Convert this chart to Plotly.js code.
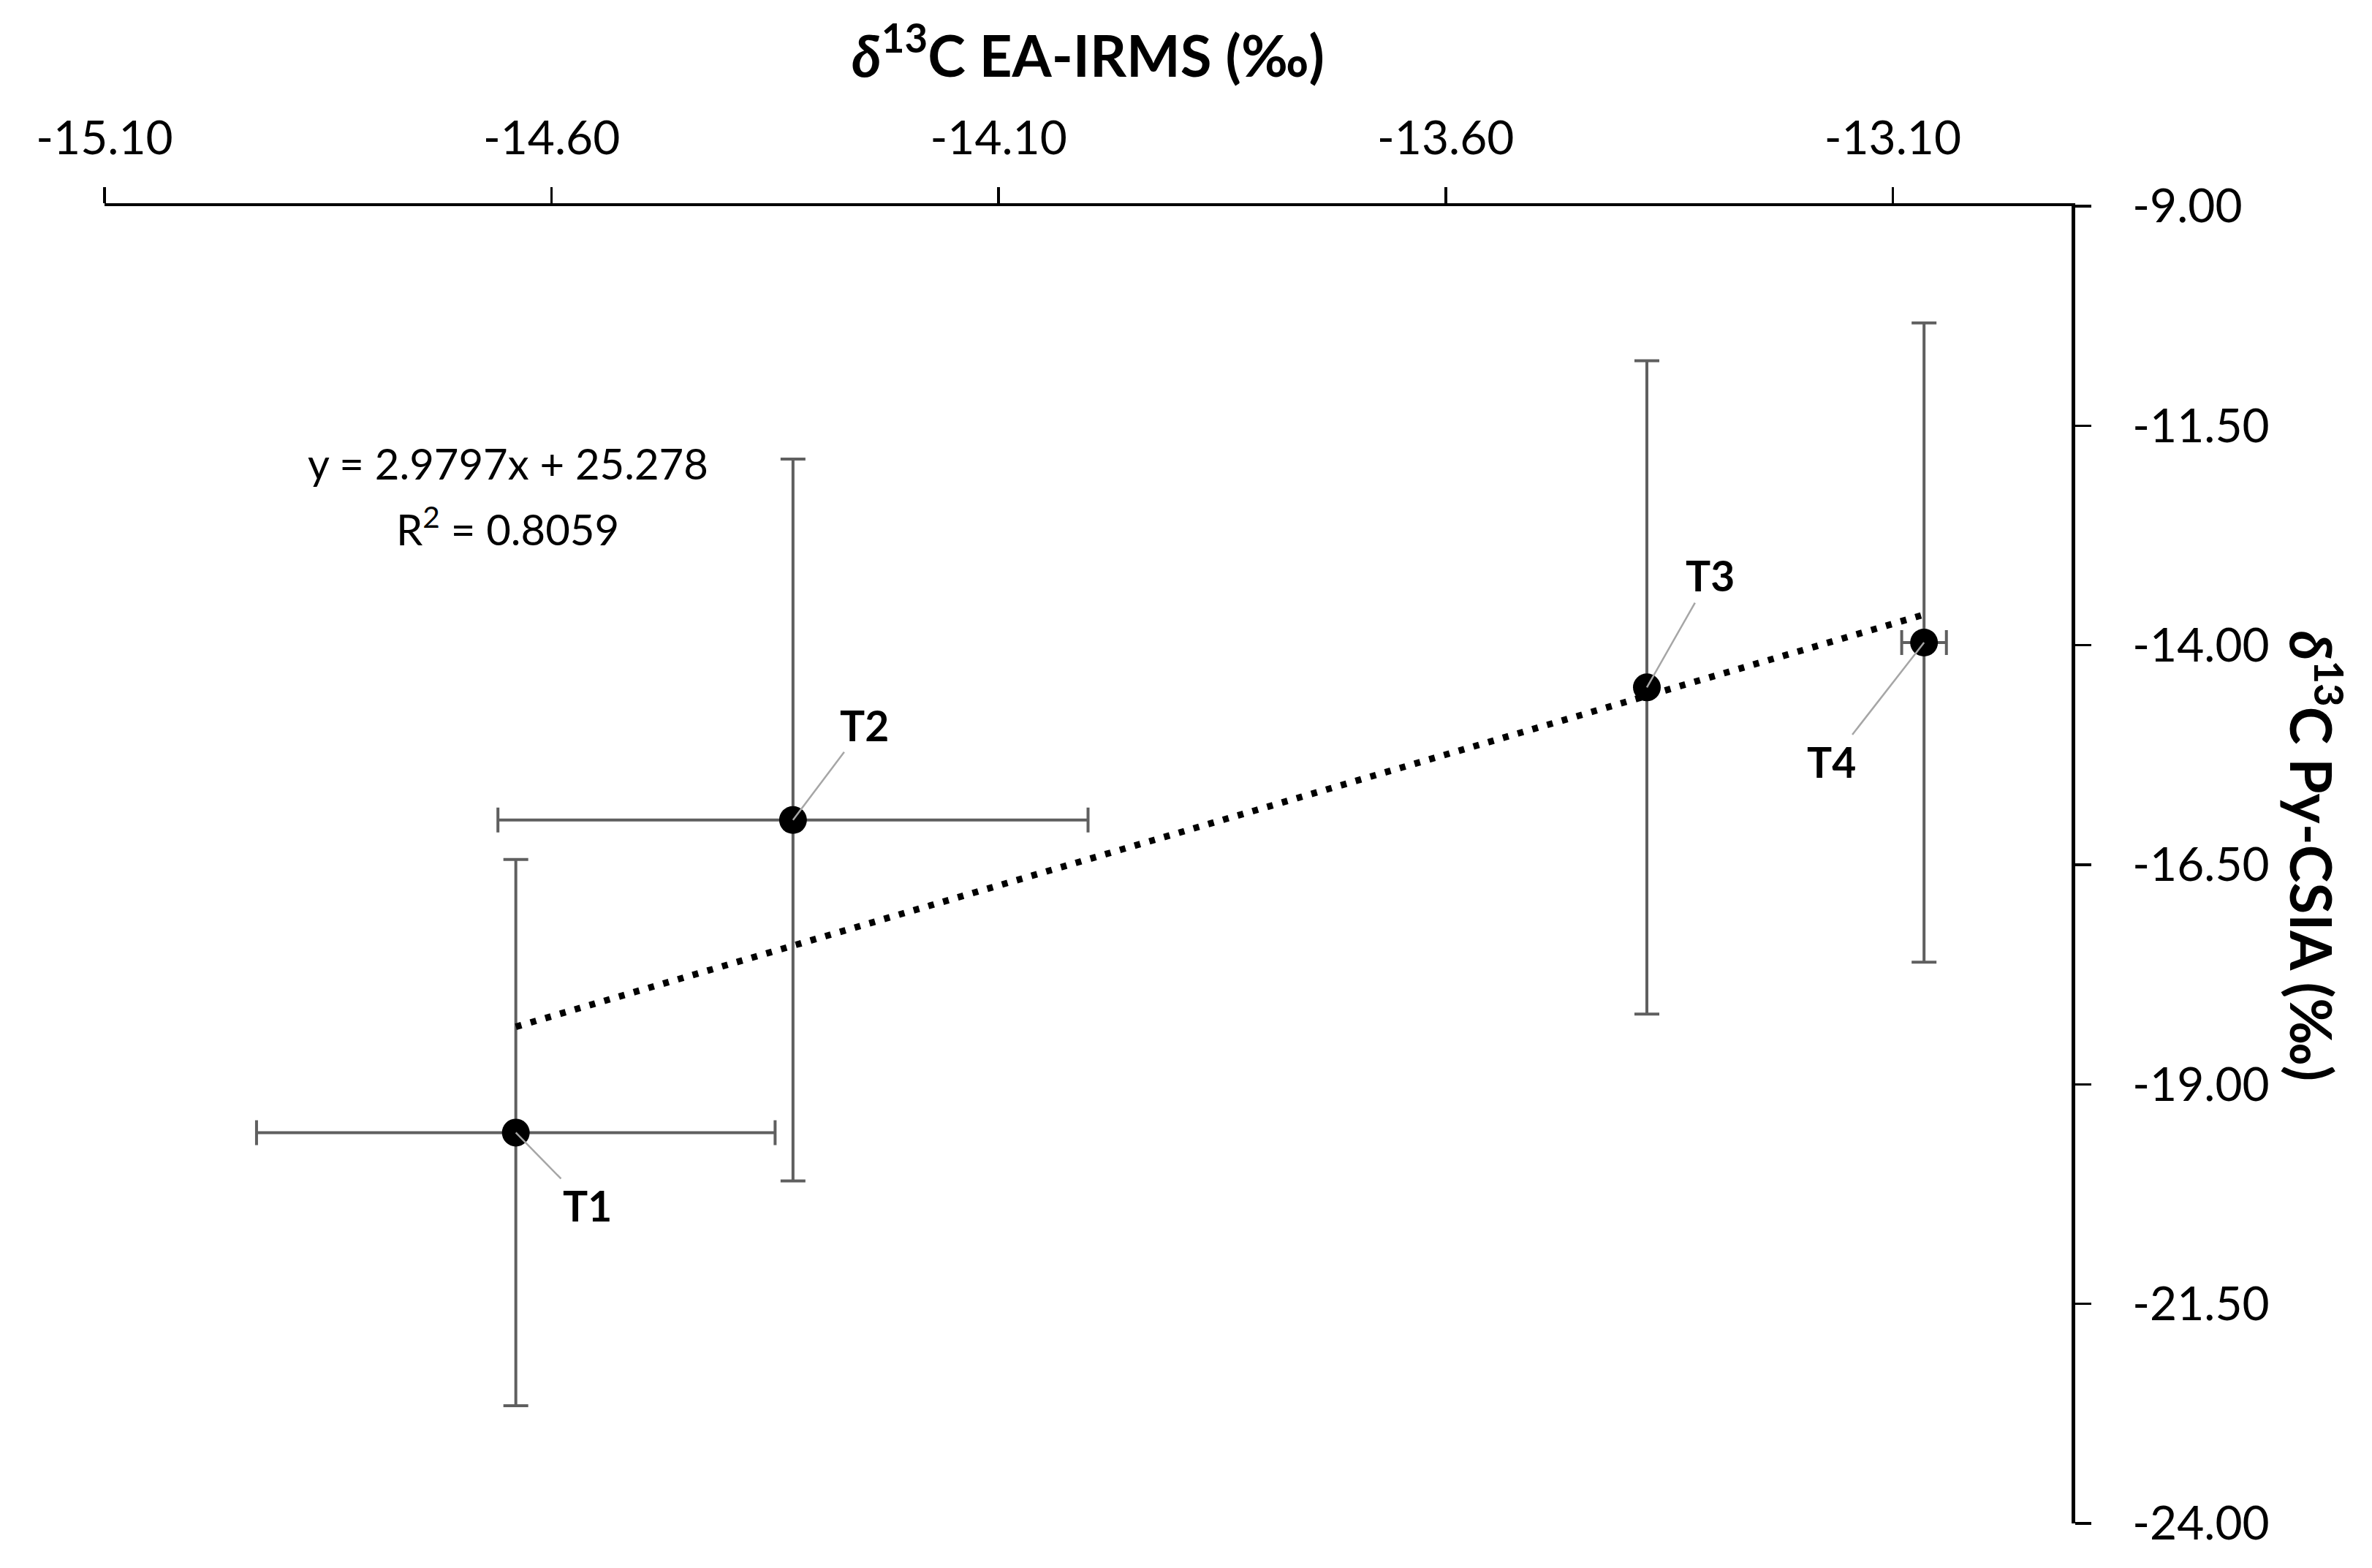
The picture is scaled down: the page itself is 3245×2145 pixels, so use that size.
<!DOCTYPE html>
<html><head><meta charset="utf-8">
<script src="https://cdn.plot.ly/plotly-3.0.1.min.js"></script>
<style>html,body{margin:0;padding:0;background:#fff}#chart{width:3245px;height:2145px}</style>
</head><body><div id="chart"></div>
<script>
// ---- data ----
const samples   = ["T1", "T2", "T3", "T4"];
const eaIrms    = [-14.64, -14.33, -13.375, -13.065];   // δ13C EA-IRMS (‰)
const pyCsia    = [-19.55, -15.99, -14.48, -13.97];     // δ13C Py-CSIA (‰)
const eaIrmsErr = [0.29, 0.33, NaN, 0.025];
const pyCsiaErr = [3.11, 4.11, 3.72, 3.64];
const trendSlope = 2.9797;
const trendIntercept = 25.278;
const trendR2 = 0.8059;
const xTickVals = [-15.10, -14.60, -14.10, -13.60, -13.10];
const xTickText = ["-15.10", "-14.60", "-14.10", "-13.60", "-13.10"];
const yTickVals = [-9, -11.5, -14, -16.5, -19, -21.5, -24];
const yTickText = ["-9.00", "-11.50", "-14.00", "-16.50", "-19.00", "-21.50", "-24.00"];

// ---- chart ----
const FONT = "Lato, 'Open Sans', sans-serif";
const trendX = [Math.min(...eaIrms), Math.max(...eaIrms)];
const trendY = trendX.map(v => trendSlope * v + trendIntercept);

const points = {
  type: "scatter", mode: "markers", x: eaIrms, y: pyCsia, text: samples,
  marker: {color: "#000", size: 38},
  error_x: {type: "data", array: eaIrmsErr, visible: true, color: "#5f5f5f", thickness: 4, width: 17},
  error_y: {type: "data", array: pyCsiaErr, visible: true, color: "#5f5f5f", thickness: 4, width: 17},
  showlegend: false, hoverinfo: "skip"
};
const trend = {
  type: "scatter", mode: "lines", x: trendX, y: trendY,
  line: {color: "#000", width: 9, dash: "8px,13px"},
  showlegend: false, hoverinfo: "skip"
};

const labelOffsets = [[98, 100], [98, -130], [87, -153], [-127, 163]];
const annotations = samples.map((s, i) => ({
  x: eaIrms[i], y: pyCsia[i], xref: "x", yref: "y",
  text: "<b>" + s + "</b>", showarrow: true, arrowhead: 0, arrowwidth: 2.5,
  arrowcolor: "#a6a6a6", ax: labelOffsets[i][0], ay: labelOffsets[i][1],
  standoff: 0, startstandoff: 2,
  font: {family: FONT, size: 57, color: "#000"}
}));
annotations.push({
  xref: "paper", yref: "paper", x: 0.205, y: 0.805, xanchor: "center", yanchor: "middle",
  showarrow: false,
  text: "y = " + trendSlope + "x + " + trendIntercept,
  font: {family: FONT, size: 58, color: "#000"}
});
annotations.push({
  xref: "paper", yref: "paper", x: 0.205, y: 0.757, xanchor: "center", yanchor: "middle",
  showarrow: false,
  text: "R<sup>2</sup> = " + trendR2,
  font: {family: FONT, size: 58, color: "#000"}
});
annotations.push({
  xref: "paper", yref: "paper", x: 1.124, y: 0.507, xanchor: "center", yanchor: "middle",
  showarrow: false, textangle: 90,
  text: "<b><i>δ</i><sup>13</sup>C Py-CSIA (‰)</b>",
  font: {family: FONT, size: 78, color: "#000"}
});

const layout = {
  width: 3245, height: 2145,
  paper_bgcolor: "#fff", plot_bgcolor: "#fff",
  margin: {l: 143, r: 411, t: 282, b: 61, pad: 0},
  font: {family: FONT, color: "#000"},
  xaxis: {
    range: [-15.10, -12.90], side: "top",
    tickmode: "array", tickvals: xTickVals, ticktext: xTickText,
    ticks: "outside", ticklen: 22, tickwidth: 3.5, tickcolor: "#000",
    showline: true, linewidth: 4.5, linecolor: "#000",
    showgrid: false, zeroline: false, ticklabelstandoff: 19,
    tickfont: {family: FONT, size: 64, color: "#000"},
    title: {text: "<b><i>δ</i><sup>13</sup>C EA-IRMS (‰)</b>", standoff: 18,
            font: {family: FONT, size: 78, color: "#000"}}
  },
  yaxis: {
    range: [-24, -9], side: "right",
    tickmode: "array", tickvals: yTickVals, ticktext: yTickText,
    ticks: "outside", ticklen: 22, tickwidth: 3.5, tickcolor: "#000",
    showline: true, linewidth: 4.5, linecolor: "#000",
    showgrid: false, zeroline: false, ticklabelstandoff: 44,
    tickfont: {family: FONT, size: 64, color: "#000"}
  },
  annotations: annotations
};

Plotly.newPlot("chart", [points, trend], layout, {displayModeBar: false, staticPlot: true});
</script>
</body></html>
